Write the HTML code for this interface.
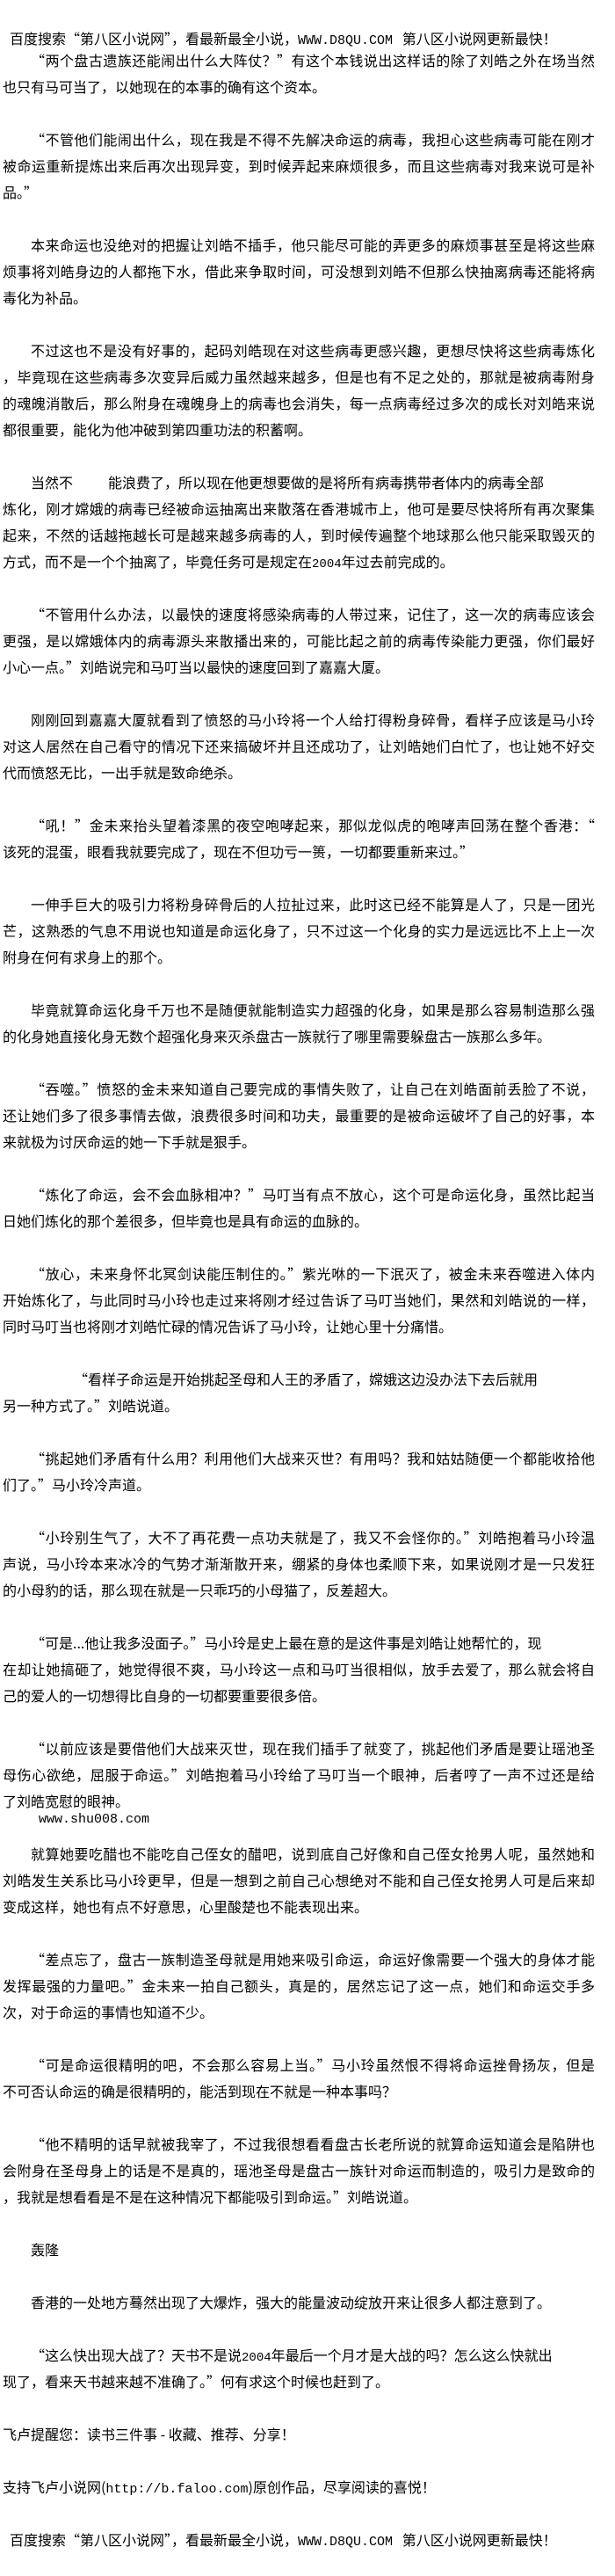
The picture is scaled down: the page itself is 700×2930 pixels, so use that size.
<!DOCTYPE html>
<html><head><meta charset="utf-8">
<style>
html,body{margin:0;padding:0;background:#fff;}
body{width:700px;height:2930px;position:relative;overflow:hidden;
font-family:"Noto Sans CJK SC","Liberation Sans",sans-serif;font-size:16px;color:#000;}
.l{position:absolute;left:3px;width:674px;height:30px;line-height:30px;white-space:nowrap;}
.i{padding-left:32px;width:642px;}
.j{text-align:justify;text-align-last:justify;}
.m{font-family:"Liberation Mono",monospace;font-size:15px;}
.n{font-family:"Liberation Mono",monospace;font-size:14px;}
</style></head><body>
<div class="l" style="top:28px;left:11px;width:680px">百度搜索“第八区小说网”，看最新最全小说，<span class="m">WWW.D8QU.COM</span>&nbsp;&nbsp;&nbsp;第八区小说网更新最快！</div>

<div class="l i j" style="top:53px">“两个盘古遗族还能闹出什么大阵仗？”有这个本钱说出这样话的除了刘皓之外在场当然</div>
<div class="l" style="top:83px">也只有马可当了，以她现在的本事的确有这个资本。</div>

<div class="l i j" style="top:143px">“不管他们能闹出什么，现在我是不得不先解决命运的病毒，我担心这些病毒可能在刚才</div>
<div class="l j" style="top:173px">被命运重新提炼出来后再次出现异变，到时候弄起来麻烦很多，而且这些病毒对我来说可是补</div>
<div class="l" style="top:203px">品。”</div>

<div class="l i j" style="top:263px">本来命运也没绝对的把握让刘皓不插手，他只能尽可能的弄更多的麻烦事甚至是将这些麻</div>
<div class="l j" style="top:293px">烦事将刘皓身边的人都拖下水，借此来争取时间，可没想到刘皓不但那么快抽离病毒还能将病</div>
<div class="l" style="top:323px">毒化为补品。</div>

<div class="l i j" style="top:383px">不过这也不是没有好事的，起码刘皓现在对这些病毒更感兴趣，更想尽快将这些病毒炼化</div>
<div class="l j" style="top:413px">，毕竟现在这些病毒多次变异后威力虽然越来越多，但是也有不足之处的，那就是被病毒附身</div>
<div class="l j" style="top:443px">的魂魄消散后，那么附身在魂魄身上的病毒也会消失，每一点病毒经过多次的成长对刘皓来说</div>
<div class="l" style="top:473px">都很重要，能化为他冲破到第四重功法的积蓄啊。</div>

<div class="l i" style="top:533px">当然不<span style="display:inline-block;width:40px"></span>能浪费了，所以现在他更想要做的是将所有病毒携带者体内的病毒全部</div>
<div class="l j" style="top:563px">炼化，刚才嫦娥的病毒已经被命运抽离出来散落在香港城市上，他可是要尽快将所有再次聚集</div>
<div class="l j" style="top:593px">起来，不然的话越拖越长可是越来越多病毒的人，到时候传遍整个地球那么他只能采取毁灭的</div>
<div class="l" style="top:623px">方式，而不是一个个抽离了，毕竟任务可是规定在<span class="n">2004</span>年过去前完成的。</div>

<div class="l i j" style="top:683px">“不管用什么办法，以最快的速度将感染病毒的人带过来，记住了，这一次的病毒应该会</div>
<div class="l j" style="top:713px">更强，是以嫦娥体内的病毒源头来散播出来的，可能比起之前的病毒传染能力更强，你们最好</div>
<div class="l" style="top:743px">小心一点。”刘皓说完和马叮当以最快的速度回到了嘉嘉大厦。</div>

<div class="l i j" style="top:803px">刚刚回到嘉嘉大厦就看到了愤怒的马小玲将一个人给打得粉身碎骨，看样子应该是马小玲</div>
<div class="l j" style="top:833px">对这人居然在自己看守的情况下还来搞破坏并且还成功了，让刘皓她们白忙了，也让她不好交</div>
<div class="l" style="top:863px">代而愤怒无比，一出手就是致命绝杀。</div>

<div class="l i j" style="top:923px">“吼！”金未来抬头望着漆黑的夜空咆哮起来，那似龙似虎的咆哮声回荡在整个香港：“</div>
<div class="l" style="top:953px">该死的混蛋，眼看我就要完成了，现在不但功亏一篑，一切都要重新来过。”</div>

<div class="l i j" style="top:1013px">一伸手巨大的吸引力将粉身碎骨后的人拉扯过来，此时这已经不能算是人了，只是一团光</div>
<div class="l j" style="top:1043px">芒，这熟悉的气息不用说也知道是命运化身了，只不过这一个化身的实力是远远比不上上一次</div>
<div class="l" style="top:1073px">附身在何有求身上的那个。</div>

<div class="l i j" style="top:1133px">毕竟就算命运化身千万也不是随便就能制造实力超强的化身，如果是那么容易制造那么强</div>
<div class="l" style="top:1163px">的化身她直接化身无数个超强化身来灭杀盘古一族就行了哪里需要躲盘古一族那么多年。</div>

<div class="l i j" style="top:1223px">“吞噬。”愤怒的金未来知道自己要完成的事情失败了，让自己在刘皓面前丢脸了不说，</div>
<div class="l j" style="top:1253px">还让她们多了很多事情去做，浪费很多时间和功夫，最重要的是被命运破坏了自己的好事，本</div>
<div class="l" style="top:1283px">来就极为讨厌命运的她一下手就是狠手。</div>

<div class="l i j" style="top:1343px">“炼化了命运，会不会血脉相冲？”马叮当有点不放心，这个可是命运化身，虽然比起当</div>
<div class="l" style="top:1373px">日她们炼化的那个差很多，但毕竟也是具有命运的血脉的。</div>

<div class="l i j" style="top:1433px">“放心，未来身怀北冥剑诀能压制住的。”紫光咻的一下泯灭了，被金未来吞噬进入体内</div>
<div class="l j" style="top:1463px">开始炼化了，与此同时马小玲也走过来将刚才经过告诉了马叮当她们，果然和刘皓说的一样，</div>
<div class="l" style="top:1493px">同时马叮当也将刚才刘皓忙碌的情况告诉了马小玲，让她心里十分痛惜。</div>

<div class="l" style="top:1553px;left:84px">“看样子命运是开始挑起圣母和人王的矛盾了，嫦娥这边没办法下去后就用</div>
<div class="l" style="top:1583px">另一种方式了。”刘皓说道。</div>

<div class="l i j" style="top:1643px">“挑起她们矛盾有什么用？利用他们大战来灭世？有用吗？我和姑姑随便一个都能收拾他</div>
<div class="l" style="top:1673px">们了。”马小玲冷声道。</div>

<div class="l i j" style="top:1733px">“小玲别生气了，大不了再花费一点功夫就是了，我又不会怪你的。”刘皓抱着马小玲温</div>
<div class="l j" style="top:1763px">声说，马小玲本来冰冷的气势才渐渐散开来，绷紧的身体也柔顺下来，如果说刚才是一只发狂</div>
<div class="l" style="top:1793px">的小母豹的话，那么现在就是一只乖巧的小母猫了，反差超大。</div>

<div class="l i" style="top:1853px">“可是...他让我多没面子。”马小玲是史上最在意的是这件事是刘皓让她帮忙的，现</div>
<div class="l j" style="top:1883px">在却让她搞砸了，她觉得很不爽，马小玲这一点和马叮当很相似，放手去爱了，那么就会将自</div>
<div class="l" style="top:1913px">己的爱人的一切想得比自身的一切都要重要很多倍。</div>

<div class="l i j" style="top:1973px">“以前应该是要借他们大战来灭世，现在我们插手了就变了，挑起他们矛盾是要让瑶池圣</div>
<div class="l j" style="top:2003px">母伤心欲绝，屈服于命运。”刘皓抱着马小玲给了马叮当一个眼神，后者哼了一声不过还是给</div>
<div class="l" style="top:2033px">了刘皓宽慰的眼神。</div>
<div class="l m" style="top:2055px;left:44px">www.shu008.com</div>

<div class="l i j" style="top:2093px">就算她要吃醋也不能吃自己侄女的醋吧，说到底自己好像和自己侄女抢男人呢，虽然她和</div>
<div class="l j" style="top:2123px">刘皓发生关系比马小玲更早，但是一想到之前自己心想绝对不能和自己侄女抢男人可是后来却</div>
<div class="l" style="top:2153px">变成这样，她也有点不好意思，心里酸楚也不能表现出来。</div>

<div class="l i j" style="top:2213px">“差点忘了，盘古一族制造圣母就是用她来吸引命运，命运好像需要一个强大的身体才能</div>
<div class="l j" style="top:2243px">发挥最强的力量吧。”金未来一拍自己额头，真是的，居然忘记了这一点，她们和命运交手多</div>
<div class="l" style="top:2273px">次，对于命运的事情也知道不少。</div>

<div class="l i j" style="top:2333px">“可是命运很精明的吧，不会那么容易上当。”马小玲虽然恨不得将命运挫骨扬灰，但是</div>
<div class="l" style="top:2363px">不可否认命运的确是很精明的，能活到现在不就是一种本事吗？</div>

<div class="l i j" style="top:2423px">“他不精明的话早就被我宰了，不过我很想看看盘古长老所说的就算命运知道会是陷阱也</div>
<div class="l j" style="top:2453px">会附身在圣母身上的话是不是真的，瑶池圣母是盘古一族针对命运而制造的，吸引力是致命的</div>
<div class="l" style="top:2483px">，我就是想看看是不是在这种情况下都能吸引到命运。”刘皓说道。</div>

<div class="l i" style="top:2543px">轰隆</div>

<div class="l i" style="top:2603px">香港的一处地方蓦然出现了大爆炸，强大的能量波动绽放开来让很多人都注意到了。</div>

<div class="l i" style="top:2663px">“这么快出现大战了？天书不是说<span class="n">2004</span>年最后一个月才是大战的吗？怎么这么快就出</div>
<div class="l" style="top:2693px">现了，看来天书越来越不准确了。”何有求这个时候也赶到了。</div>

<div class="l" style="top:2753px">飞卢提醒您：读书三件事 - 收藏、推荐、分享！</div>

<div class="l" style="top:2813px">支持飞卢小说网(<span class="m">http://b.faloo.com</span>)原创作品，尽享阅读的喜悦！</div>

<div class="l" style="top:2873px;left:11px;width:680px">百度搜索“第八区小说网”，看最新最全小说，<span class="m">WWW.D8QU.COM</span>&nbsp;&nbsp;&nbsp;第八区小说网更新最快！</div>
</body></html>
